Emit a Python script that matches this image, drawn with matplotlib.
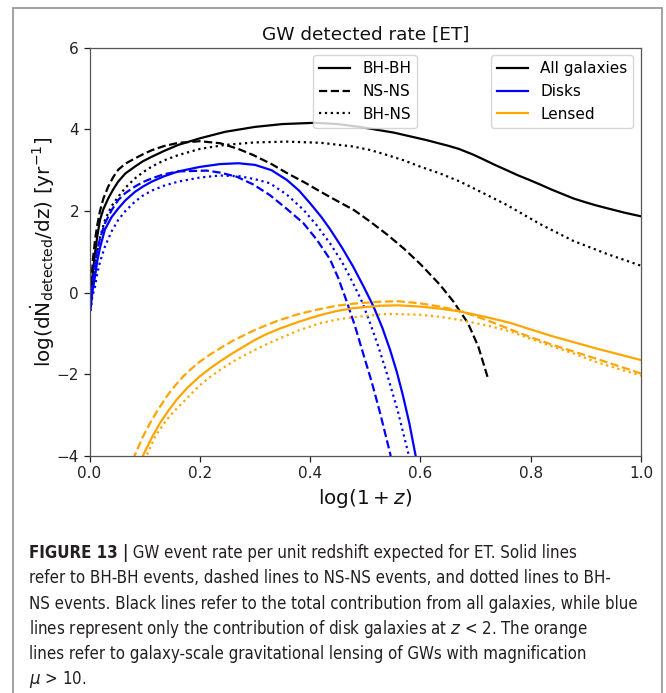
import os
import matplotlib
matplotlib.use('Agg')
import matplotlib.pyplot as plt
from matplotlib import font_manager
from matplotlib.font_manager import FontProperties
from matplotlib.patches import Rectangle
from matplotlib.lines import Line2D

plt.rcParams['font.family'] = ['DejaVu Sans']

# ---------------- data ----------------
x_ticks = [0.0, 0.2, 0.4, 0.6, 0.8, 1.0]
y_ticks = [-4, -2, 0, 2, 4, 6]

# All galaxies (black)
bhbh_all_x = [0.003, 0.006, 0.010, 0.014, 0.019, 0.025, 0.034, 0.043, 0.052, 0.065, 0.0825, 0.097, 0.113, 0.135,
              0.161, 0.20, 0.246, 0.30, 0.35, 0.408, 0.45, 0.49, 0.552, 0.61, 0.65, 0.67, 0.696, 0.715, 0.735,
              0.7565, 0.776, 0.796, 0.817, 0.837, 0.857, 0.877, 0.898, 0.918, 0.938, 0.97, 1.0]
bhbh_all_y = [0.05, 0.5, 0.97, 1.37, 1.78, 2.04, 2.31, 2.53, 2.72, 2.92, 3.09, 3.22, 3.33, 3.47,
              3.62, 3.78, 3.94, 4.06, 4.13, 4.16, 4.13, 4.06, 3.92, 3.74, 3.60, 3.52, 3.38, 3.26, 3.13,
              3.0, 2.88, 2.77, 2.65, 2.53, 2.42, 2.31, 2.22, 2.14, 2.07, 1.96, 1.87]

nsns_all_x = [0.003, 0.006, 0.010, 0.014, 0.019, 0.025, 0.034, 0.043, 0.052, 0.065, 0.0825, 0.097, 0.113, 0.135,
              0.161, 0.20, 0.237, 0.27, 0.297, 0.33, 0.358, 0.39, 0.418, 0.45, 0.48, 0.51, 0.54, 0.57, 0.60,
              0.635, 0.66, 0.686, 0.705, 0.723]
nsns_all_y = [0.2, 0.8, 1.29, 1.65, 2.0, 2.3, 2.60, 2.83, 3.01, 3.16, 3.29, 3.39, 3.49, 3.59,
              3.67, 3.71, 3.66, 3.52, 3.37, 3.15, 2.93, 2.70, 2.48, 2.24, 2.02, 1.73, 1.42, 1.08, 0.70,
              0.20, -0.22, -0.74, -1.32, -2.12]

bhns_all_x = [0.003, 0.006, 0.010, 0.014, 0.019, 0.028, 0.04, 0.052, 0.065, 0.0825, 0.097, 0.113, 0.135, 0.161,
              0.20, 0.246, 0.30, 0.358, 0.42, 0.478, 0.51, 0.54, 0.57, 0.599, 0.6355, 0.672, 0.696, 0.7565,
              0.817, 0.877, 0.938, 1.0]
bhns_all_y = [-0.1, 0.3, 0.65, 1.02, 1.35, 1.78, 2.12, 2.35, 2.57, 2.8, 2.95, 3.09, 3.24, 3.37,
              3.52, 3.62, 3.68, 3.70, 3.67, 3.58, 3.49, 3.37, 3.24, 3.09, 2.92, 2.72, 2.56, 2.15,
              1.68, 1.27, 0.95, 0.66]

# Disk galaxies (blue)
bhbh_disk_x = [0.002, 0.005, 0.010, 0.014, 0.019, 0.028, 0.04, 0.052, 0.065, 0.0825, 0.097, 0.113, 0.135, 0.161,
               0.20, 0.237, 0.27, 0.30, 0.33, 0.358, 0.38, 0.40, 0.42, 0.436, 0.458, 0.478, 0.497, 0.515,
               0.531, 0.545, 0.557, 0.568, 0.58, 0.591, 0.596]
bhbh_disk_y = [-0.4, 0.0, 0.4, 0.77, 1.1, 1.55, 1.85, 2.06, 2.26, 2.47, 2.6, 2.72, 2.85, 2.97,
               3.08, 3.15, 3.17, 3.13, 3.0, 2.76, 2.5, 2.19, 1.86, 1.56, 1.1, 0.64, 0.15, -0.34,
               -0.86, -1.40, -1.93, -2.5, -3.2, -3.97, -4.3]

nsns_disk_x = [0.002, 0.005, 0.010, 0.014, 0.019, 0.028, 0.04, 0.052, 0.065, 0.0825, 0.097, 0.113, 0.135, 0.161,
               0.2125, 0.237, 0.267, 0.297, 0.327, 0.358, 0.388, 0.412, 0.436, 0.451, 0.466, 0.481, 0.496,
               0.512, 0.527, 0.545, 0.550]
nsns_disk_y = [-0.3, 0.2, 0.73, 1.05, 1.32, 1.7, 2.02, 2.27, 2.44, 2.6, 2.71, 2.8, 2.9, 2.97,
               2.99, 2.94, 2.84, 2.65, 2.39, 2.05, 1.70, 1.30, 0.82, 0.36, -0.2, -0.8, -1.48,
               -2.2, -2.95, -3.93, -4.3]

bhns_disk_x = [0.002, 0.005, 0.010, 0.014, 0.019, 0.028, 0.04, 0.052, 0.065, 0.0825, 0.097, 0.113, 0.135, 0.161,
               0.20, 0.237, 0.273, 0.30, 0.327, 0.358, 0.388, 0.412, 0.436, 0.458, 0.478, 0.494, 0.509,
               0.524, 0.539, 0.559, 0.578, 0.583]
bhns_disk_y = [-0.45, -0.1, 0.15, 0.47, 0.75, 1.13, 1.5, 1.78, 2.0, 2.23, 2.38, 2.5, 2.62, 2.72,
               2.82, 2.87, 2.85, 2.78, 2.68, 2.4, 2.03, 1.65, 1.21, 0.75, 0.23, -0.22, -0.75,
               -1.33, -1.97, -2.9, -3.93, -4.3]

# Lensed (orange)
bhbh_lens_x = [0.094, 0.0976, 0.113, 0.128, 0.143, 0.158, 0.178, 0.2, 0.218, 0.237, 0.261, 0.297, 0.32, 0.345,
               0.38, 0.418, 0.448, 0.478, 0.527, 0.56, 0.599, 0.635, 0.672, 0.72, 0.763, 0.80, 0.84, 0.88,
               0.917, 0.96, 1.0]
bhbh_lens_y = [-4.1, -3.97, -3.55, -3.19, -2.89, -2.62, -2.32, -2.05, -1.86, -1.68, -1.47, -1.18, -1.02, -0.88,
               -0.71, -0.55, -0.45, -0.38, -0.32, -0.31, -0.34, -0.39, -0.46, -0.60, -0.74, -0.90, -1.07, -1.22,
               -1.36, -1.51, -1.65]

nsns_lens_x = [0.079, 0.0825, 0.096, 0.11, 0.125, 0.14, 0.155, 0.17, 0.185, 0.2, 0.218, 0.237, 0.261, 0.297,
               0.32, 0.345, 0.38, 0.418, 0.448, 0.478, 0.527, 0.56, 0.599, 0.635, 0.672, 0.72, 0.763, 0.80,
               0.84, 0.88, 0.917, 0.96, 1.0]
nsns_lens_y = [-4.1, -3.97, -3.55, -3.19, -2.85, -2.54, -2.28, -2.05, -1.86, -1.69, -1.52, -1.36, -1.17, -0.93,
               -0.80, -0.67, -0.52, -0.40, -0.32, -0.27, -0.22, -0.21, -0.26, -0.34, -0.45, -0.67, -0.90, -1.09,
               -1.28, -1.45, -1.61, -1.80, -1.98]

bhns_lens_x = [0.101, 0.104, 0.12, 0.14, 0.155, 0.17, 0.185, 0.2, 0.218, 0.237, 0.261, 0.297, 0.32, 0.345,
               0.38, 0.418, 0.448, 0.478, 0.539, 0.599, 0.635, 0.672, 0.72, 0.763, 0.80, 0.84, 0.88, 0.917,
               0.96, 1.0]
bhns_lens_y = [-4.1, -3.97, -3.5, -3.11, -2.88, -2.68, -2.47, -2.27, -2.07, -1.89, -1.68, -1.42, -1.27, -1.12,
               -0.92, -0.75, -0.66, -0.60, -0.52, -0.54, -0.59, -0.67, -0.80, -0.95, -1.13, -1.32, -1.50, -1.69,
               -1.87, -2.03]

type_labels = ['BH-BH', 'NS-NS', 'BH-NS']
pop_labels = ['All galaxies', 'Disks', 'Lensed']

caption_bold = 'FIGURE 13 |'
caption_lines = [
    ' GW event rate per unit redshift expected for ET. Solid lines',
    'refer to BH-BH events, dashed lines to NS-NS events, and dotted lines to BH-',
    'NS events. Black lines refer to the total contribution from all galaxies, while blue',
    r'lines represent only the contribution of disk galaxies at $z$ < 2. The orange',
    'lines refer to galaxy-scale gravitational lensing of GWs with magnification',
    r'$\mu$ > 10.',
]

# ---------------- figure ----------------
W, H = 666, 693
fig = plt.figure(figsize=(W / 100, H / 100), dpi=100)
fig.patch.set_facecolor('white')

ax_l, ax_r, ax_t, ax_b = 89.5, 641.0, 47.7, 456.0
ax = fig.add_axes([ax_l / W, 1 - ax_b / H, (ax_r - ax_l) / W, (ax_b - ax_t) / H])

lw = 1.6
series = [
    (bhbh_all_x, bhbh_all_y, 'black', '-'),
    (nsns_all_x, nsns_all_y, 'black', '--'),
    (bhns_all_x, bhns_all_y, 'black', ':'),
    (bhbh_disk_x, bhbh_disk_y, 'blue', '-'),
    (nsns_disk_x, nsns_disk_y, 'blue', '--'),
    (bhns_disk_x, bhns_disk_y, 'blue', ':'),
    (bhbh_lens_x, bhbh_lens_y, 'orange', '-'),
    (nsns_lens_x, nsns_lens_y, 'orange', '--'),
    (bhns_lens_x, bhns_lens_y, 'orange', ':'),
]
for xs, ys, c, ls in series:
    ax.plot(xs, ys, color=c, ls=ls, lw=lw)

ax.set_xlim(0, 1)
ax.set_ylim(-4, 6)
ax.set_xticks(x_ticks)
ax.set_yticks(y_ticks)
ax.tick_params(labelsize=11, colors='#222222', length=4, width=0.9)
for sp in ax.spines.values():
    sp.set_color('#555555')
    sp.set_linewidth(0.9)

ax.set_title('GW detected rate [ET]', fontsize=13.3, color='#111111')
ax.set_xlabel(r'$\log(1+z)$', fontsize=14.4, color='#111111')
ax.set_ylabel(r'log(d$\dot{\mathrm{N}}_{\mathrm{detected}}$/dz) [yr$^{-1}$]', fontsize=14.4,
              color='#111111', labelpad=0)

h1 = [Line2D([], [], color='black', ls=s, lw=lw) for s in ['-', '--', ':']]
leg1 = ax.legend(h1, type_labels, loc='upper center', fontsize=11)
ax.add_artist(leg1)
h2 = [Line2D([], [], color=c, lw=lw) for c in ['black', 'blue', 'orange']]
ax.legend(h2, pop_labels, loc='upper right', fontsize=11)

# outer frame
fig.add_artist(Rectangle((12.7 / W, -0.05), (661.5 - 12.7) / W, 1.05 - 8.0 / H,
                         transform=fig.transFigure, fill=False, edgecolor='#9a9a9a', lw=1.3))


# ---------------- caption font (prefer a narrow sans) ----------------
def _weight(f):
    w = f.weight
    if isinstance(w, str):
        w = font_manager.weight_dict.get(w, 400)
    return w


def find_narrow(bold):
    cands = []
    for f in font_manager.fontManager.ttflist:
        nm = f.name
        fn = os.path.basename(f.fname)
        if any(k in nm for k in ('Mono', 'Serif', 'CJK', 'Math')) or 'Mono' in fn:
            continue
        if f.style != 'normal':
            continue
        st = str(f.stretch)
        tag = (nm + ' ' + fn).lower()
        narrow = ('narrow' in tag) or ('condensed' in tag) or st in ('condensed', 'semi-condensed')
        if not narrow or 'extra' in tag or 'ultra' in tag:
            continue
        w = _weight(f)
        if bold and w < 600:
            continue
        if not bold and not (350 <= w <= 450):
            continue
        if 'narrow' in tag and 'liberation' in tag:
            score = 0
        elif 'semi' in tag or st == 'semi-condensed':
            score = 3
        else:
            score = 1
        if bold and w != 700:
            score += 0.5
        cands.append((score, f.fname))
    cands.sort()
    return cands[0][1] if cands else None


reg_path = find_narrow(False)
bold_path = find_narrow(True) if reg_path else None


def cap_props(size, bold=False):
    if bold and bold_path:
        return FontProperties(fname=bold_path, size=size)
    if not bold and reg_path:
        return FontProperties(fname=reg_path, size=size)
    return FontProperties(family='Liberation Sans', size=size, weight='bold' if bold else 'normal')


cap_color = '#231f20'
x0 = 29.0
baselines = [558.0 + 25.3 * i for i in range(6)]

fig.canvas.draw()
renderer = fig.canvas.get_renderer()

# size the caption so that its widest line spans the same width as in the reference
fs = 12.0
probe = fig.text(x0 / W, 0.5, caption_lines[2], fontproperties=cap_props(fs))
w = probe.get_window_extent(renderer).width
probe.remove()
fs = fs * 610.0 / w

tb = fig.text(x0 / W, 1 - baselines[0] / H, caption_bold, fontproperties=cap_props(fs, True),
              va='baseline', color=cap_color)
wb = tb.get_window_extent(renderer).width
fig.text((x0 + wb) / W, 1 - baselines[0] / H, caption_lines[0], fontproperties=cap_props(fs),
         va='baseline', color=cap_color)
for i in range(1, 6):
    fig.text(x0 / W, 1 - baselines[i] / H, caption_lines[i], fontproperties=cap_props(fs),
             va='baseline', color=cap_color)

fig.savefig('out.png', dpi=100)
